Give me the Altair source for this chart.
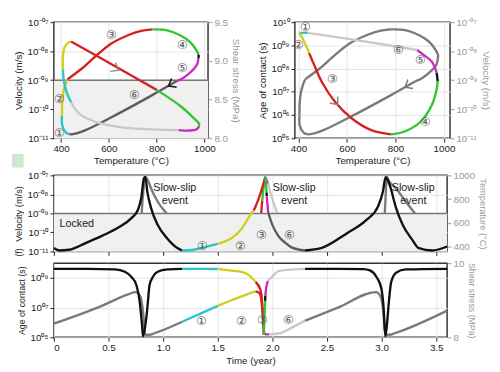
import altair as alt
import pandas as pd

# ---------------- colours of the phases ----------------
KEYS = ["k", "g", "d", "p1", "p2", "p3", "p4", "p5", "p6"]
COLS = ["#111111", "#7a7a7a", "#5c5c5c", "#2bc4c8", "#cfcf1f", "#d42222", "#2fc62f", "#c828c8", "#c9c9c9"]

# ---------------- top-left: velocity (log10) vs temperature ----------------
TLV_C = ["p1", "p2", "p3", "p4", "k", "p5", "d"]
TLV_T = [[435, 420, 405, 404], [404, 405, 411, 419, 427], [427, 490, 544, 612, 680, 735, 782],
         [782, 844, 898, 939, 966, 976], [976, 975], [975, 969, 946, 911, 884],
         [884, 776, 640, 503, 449, 435]]
TLV_E = [[-10.86, -10.80, -10.55, -10.21], [-10.21, -9.76, -9.37, -9.14, -8.97],
         [-8.97, -8.58, -8.18, -7.73, -7.45, -7.30, -7.25],
         [-7.25, -7.28, -7.45, -7.68, -7.96, -8.13], [-8.13, -8.24],
         [-8.24, -8.46, -8.69, -8.92, -9.03], [-9.03, -9.54, -10.15, -10.72, -10.86, -10.86]]
# top-left: shear stress vs temperature
TLS_C = ["p1", "p2", "p3", "p4", "p5", "p6"]
TLS_T = [[442, 424, 412, 408], [408, 408, 415, 429, 442], [442, 626, 800],
         [800, 898, 952, 977, 977], [977, 966, 939, 891], [891, 776, 640, 544, 476, 442]]
TLS_S = [[8.465, 8.59, 8.74, 8.89], [8.89, 9.06, 9.18, 9.23, 9.25], [9.25, 8.93, 8.625],
         [8.625, 8.42, 8.27, 8.19, 8.15], [8.15, 8.114, 8.10, 8.106],
         [8.106, 8.114, 8.148, 8.211, 8.317, 8.465]]
TL_LAB = ["①", "②", "③", "④", "⑤", "⑥"]
TL_LAB_T = [392, 392, 612, 909, 909, 707]
TL_LAB_E = [-10.83, -9.65, -7.43, -7.79, -8.59, -9.51]
TL_ARROW_S = [[640, 8.88]]      # arrow on the stress curve
TL_ARROW_V = [[850, -9.2]]      # arrow on the velocity curve

# ---------------- top-right: age of contact (log10) vs temperature ----------------
TRA_C = ["p1", "p2", "p3", "p4", "k", "p5", "p6"]
TRA_T = [[438, 404], [404, 424, 444], [444, 464, 498, 552, 620, 700, 781],
         [781, 835, 902, 949, 970, 974], [974, 970], [970, 949, 916, 889], [889, 727, 593, 438]]
TRA_E = [[9.54, 9.54], [9.54, 9.15, 8.66], [8.66, 8.17, 7.39, 6.55, 5.85, 5.35, 5.17],
         [5.17, 5.28, 5.70, 6.41, 7.11, 7.46], [7.46, 7.82], [7.82, 8.31, 8.59, 8.80],
         [8.80, 9.08, 9.30, 9.54]]
TR_LAB = ["①", "②", "③", "④", "⑤", "⑥"]
TR_LAB_T = [427, 400, 541, 923, 902, 811]
TR_LAB_E = [9.79, 9.01, 7.54, 5.70, 8.38, 8.80]
TR_ARROW_A = [[562, 6.45]]
TR_ARROW_V = [[839, -9.24]]

# ---------------- bottom 1: velocity (log10) and temperature vs time ----------------
B1V_C = ["k", "p1", "p2", "p3", "p4", "k", "p5", "d", "k"]
B1V_X = [[0, 0.05, 0.14, 0.29, 0.44, 0.59, 0.71, 0.77, 0.80, 0.825, 0.837, 0.855, 0.89, 0.95, 1.04, 1.13, 1.175],
         [1.175, 1.28, 1.4, 1.5], [1.5, 1.64, 1.72, 1.79, 1.83], [1.83, 1.87, 1.905, 1.925, 1.937],
         [1.937, 1.942, 1.947], [1.947, 1.949], [1.949, 1.955, 1.962],
         [1.962, 2.0, 2.056, 2.12, 2.18, 2.3],
         [2.3, 2.445, 2.684, 2.864, 2.968, 3.013, 3.037, 3.073, 3.133, 3.193, 3.28, 3.342, 3.462, 3.6]]
B1V_E = [[-10.82, -10.95, -10.91, -10.56, -10.18, -9.74, -9.25, -8.81, -8.19, -7.14, -7.08, -7.84, -8.72, -9.6, -10.33, -10.82, -10.95],
         [-10.95, -10.91, -10.74, -10.6], [-10.6, -10.25, -9.8, -9.15, -8.85], [-8.85, -8.3, -7.7, -7.3, -7.07],
         [-7.07, -7.5, -7.9], [-7.9, -8.1], [-8.1, -8.5, -8.95],
         [-8.95, -9.6, -10.19, -10.55, -10.8, -10.95],
         [-10.95, -10.83, -10.04, -9.33, -8.63, -7.84, -7.1, -7.49, -8.72, -9.6, -10.38, -10.83, -10.95, -10.74]]
B1T_C = ["g", "p1", "p2", "p3", "p4", "p5", "p6", "g"]
B1T_X = [[0, 0.09, 0.21, 0.44, 0.68, 0.74, 0.77, 0.795, 0.816, 0.831, 0.84, 0.86, 0.89, 0.95, 1.04, 1.13, 1.22, 1.3],
         [1.3, 1.4, 1.5], [1.5, 1.7, 1.86], [1.86, 1.89, 1.908], [1.908, 1.92, 1.935],
         [1.935, 1.947, 1.96], [1.96, 2.0, 2.056, 2.13, 2.206, 2.3],
         [2.3, 2.4, 2.5, 2.7, 2.998, 3.019, 3.035, 3.048, 3.07, 3.133, 3.22, 3.34, 3.46, 3.58, 3.6]]
B1T_T = [[483, 436, 408, 403, 403, 417, 463, 587, 835, 972, 986, 959, 890, 780, 670, 573, 491, 445],
         [445, 415, 410], [410, 407, 416], [416, 600, 790], [790, 900, 985],
         [985, 960, 930], [930, 800, 660, 560, 495, 455],
         [455, 425, 410, 405, 408, 505, 780, 986, 950, 890, 780, 642, 518, 422, 410]]
B1_LAB = ["①", "②", "③", "⑥"]
B1_LAB_X = [1.363, 1.713, 1.898, 2.155]
B1_LAB_E = [-10.7, -10.7, -10.14, -10.16]
SSE_X = [1.107, 2.2, 3.29]
SSE_E = [-7.68, -7.68, -7.68]
LOCK_X = [0.21]
LOCK_E = [-9.56]
LOCK_V = [1e-11, 1e-9]

# ---------------- bottom 2: age of contact (log10) and shear stress vs time ----------------
B2A_C = ["k", "p1", "p2", "p3", "p4", "k", "p5", "p6", "k"]
B2A_X = [[0, 0.3, 0.56, 0.65, 0.71, 0.756, 0.786, 0.807, 0.816, 0.846, 0.861, 0.876, 0.906, 0.95, 1.04, 1.175],
         [1.175, 1.35, 1.5], [1.5, 1.608, 1.727, 1.787, 1.847], [1.847, 1.892, 1.907, 1.916, 1.922],
         [1.922, 1.928, 1.934], [1.934, 1.936], [1.936, 1.945, 1.96], [1.96, 1.997, 2.056, 2.206, 2.3],
         [2.3, 2.6, 2.834, 2.893, 2.953, 2.998, 3.019, 3.034, 3.049, 3.067, 3.088, 3.133, 3.22, 3.6]]
B2A_E = [[9.62, 9.62, 9.58, 9.42, 9.07, 8.51, 7.4, 5.84, 5.07, 6.29, 7.4, 8.53, 9.07, 9.42, 9.58, 9.62],
         [9.62, 9.62, 9.61], [9.61, 9.51, 9.4, 9.18, 8.73], [8.73, 8.18, 7.29, 6.18, 5.17],
         [5.17, 6.3, 7.46], [7.46, 7.82], [7.82, 8.4, 8.8], [8.8, 9.07, 9.47, 9.58, 9.62],
         [9.62, 9.62, 9.6, 9.51, 9.07, 8.29, 6.96, 5.07, 5.84, 7.4, 8.73, 9.35, 9.58, 9.62]]
B2S_C = ["g", "p1", "p2", "p3", "p4", "p5", "p6", "g"]
B2S_X = [[0, 0.44, 0.68, 0.75, 0.79, 0.82, 0.835, 0.876, 0.92, 1.175], [1.175, 1.5],
         [1.5, 1.61, 1.75, 1.847], [1.847, 1.88, 1.9, 1.912], [1.912, 1.918, 1.925],
         [1.925, 1.94, 1.97], [1.97, 2.08, 2.15, 2.3],
         [2.3, 2.6, 2.95, 2.99, 3.02, 3.035, 3.076, 3.12, 3.6]]
B2S_S = [[8.37, 8.85, 9.16, 9.22, 9.11, 8.59, 8.07, 8.07, 8.11, 8.42], [8.42, 8.85],
         [8.85, 8.98, 9.14, 9.24], [9.24, 9.2, 9.0, 8.63], [8.63, 8.35, 8.11],
         [8.11, 8.08, 8.08], [8.08, 8.12, 8.22, 8.45],
         [8.45, 8.8, 9.22, 9.11, 8.59, 8.07, 8.07, 8.11, 8.72]]
B2_LAB = ["①", "②", "③", "⑥"]
B2_LAB_X = [1.354, 1.72, 1.907, 2.15]
B2_LAB_E = [6.07, 6.07, 6.13, 6.13]
PANEL_TAG = ["(f)"]

FONT = "Liberation Sans"
DARK = "#222222"
GREY = "#9a9a9a"
GRID = "#e4e4e4"
CHEVRON = "M -1 -0.8 L 0 0 L -1 0.8"

SUP = str.maketrans("-0123456789", "⁻⁰¹²³⁴⁵⁶⁷⁸⁹")


def pow_expr(exps):
    expr = "''"
    for e in reversed(exps):
        s = "10" + (f"{e:03d}" if e < 0 else f"{e:02d}").translate(SUP)
        expr = f"(round(log(datum.value)/LN10)=={e}) ? '{s}' : {expr}"
    return expr


def curve_df(name, cols, xs, ys, log=False):
    rows = []
    for i, (c, xx, yy) in enumerate(zip(cols, xs, ys)):
        for j, (x, y) in enumerate(zip(xx, yy)):
            rows.append(dict(sid=f"{name}{i}", o=j, x=x, y=(10 ** y if log else y), c=c))
    return pd.DataFrame(rows)


def text_df(labels, xs, ys, log=True):
    return pd.DataFrame({"x": xs, "y": [10 ** v if log else v for v in ys], "s": labels})


def pt_df(pts, log=False):
    return pd.DataFrame({"x": [p[0] for p in pts], "y": [10 ** p[1] if log else p[1] for p in pts]})


COLOR = alt.Color("c:N", scale=alt.Scale(domain=KEYS, range=COLS), legend=None)


def lines(df, X, Y, interp, sw=2.4):
    return alt.Chart(df).mark_line(strokeWidth=sw, interpolate=interp).encode(
        x=X, y=Y, color=COLOR, detail="sid:N", order="o:Q")


def texts(df, X, Y, size=10, color="#555555", **kw):
    return alt.Chart(df).mark_text(fontSize=size, color=color, font=FONT, **kw).encode(
        x=X, y=Y, text="s:N")


def arrow(df, X, Y, angle, color):
    return alt.Chart(df).mark_point(shape=CHEVRON, filled=False, size=170, strokeWidth=1.5,
                                    color=color, opacity=1, angle=angle).encode(x=X, y=Y)


def left_log_axis(title, exps, tsize):
    return alt.Axis(title=title, values=[10.0 ** e for e in exps], labelExpr=pow_expr(exps),
                    grid=True, gridColor=GRID, tickColor=DARK, labelColor=DARK, titleColor=DARK,
                    domain=False, tickSize=4, labelFontSize=10, titleFontSize=tsize, titlePadding=3,
                    titleFontWeight="normal")


def right_axis(title, values, tsize, fmt=None, expr=None):
    kw = dict(title=title, orient="right", values=values, grid=False, tickColor=GREY,
              labelColor=GREY, titleColor=GREY, domain=False, tickSize=4,
              labelFontSize=10, titleFontSize=tsize, titlePadding=3, titleFontWeight="normal")
    if fmt:
        kw["format"] = fmt
    if expr:
        kw["labelExpr"] = expr
    return alt.Axis(**kw)


def temp_axis():
    return alt.Axis(title="Temperature (°C)", values=[400, 600, 800, 1000], format="d", grid=True,
                    gridColor=GRID, domain=False, tickColor=DARK, labelColor=DARK,
                    titleColor=DARK, labelFontSize=10, titleFontSize=10, tickSize=4,
                    titlePadding=2, titleFontWeight="normal")


# ---------------- top-left panel ----------------
W1, H1 = 158, 119
xT1 = alt.X("x:Q", scale=alt.Scale(domain=[370, 1015], nice=False, zero=False), axis=temp_axis())
v_scale = alt.Scale(type="log", domain=[1e-11, 1e-7], nice=False)
yV1 = alt.Y("y:Q", scale=v_scale, axis=left_log_axis("Velocity (m/s)", [-11, -10, -9, -8, -7], 10))
band_df = pd.DataFrame({"y": [LOCK_V[0]], "y2": [LOCK_V[1]]})
band1 = alt.Chart(band_df).mark_rect(color="#f0f0f0").encode(
    x=alt.value(0), x2=alt.value(W1), y=yV1, y2="y2:Q")
rule1 = alt.Chart(pd.DataFrame({"y": [LOCK_V[1]]})).mark_rule(color="#777777", strokeWidth=1.5).encode(y=yV1)
swatch = alt.Chart(pd.DataFrame({"s": PANEL_TAG})).mark_rect(color="#cde8cf").encode(
    x=alt.value(-43), x2=alt.value(-31), y=alt.value(H1 + 16), y2=alt.value(H1 + 30))
tl_left = alt.layer(
    band1, rule1,
    lines(curve_df("tlv", TLV_C, TLV_T, TLV_E, log=True), xT1, yV1, "catmull-rom"),
    arrow(pt_df(TL_ARROW_V, log=True), xT1, yV1, 150, "#111111"),
    texts(text_df(TL_LAB, TL_LAB_T, TL_LAB_E), xT1, yV1, size=12),
    swatch,
)
yS1 = alt.Y("y:Q", scale=alt.Scale(domain=[8.0, 9.5], nice=False, zero=False),
            axis=right_axis("Shear stress (MPa)", [8.0, 8.5, 9.0, 9.5], 10, fmt=".1f"))
tl_right = alt.layer(
    lines(curve_df("tls", TLS_C, TLS_T, TLS_S), xT1, yS1, "catmull-rom"),
    arrow(pt_df(TL_ARROW_S), xT1, yS1, 30, "#888888"),
)
TL = alt.layer(tl_left, tl_right).resolve_scale(y="independent").properties(width=W1, height=H1)

# ---------------- top-right panel ----------------
W2, H2 = 159, 119
xT2 = alt.X("x:Q", scale=alt.Scale(domain=[385, 1025], nice=False, zero=False), axis=temp_axis())
yA2 = alt.Y("y:Q", scale=alt.Scale(type="log", domain=[1e5, 1e10], nice=False),
            axis=left_log_axis("Age of contact (s)", [5, 6, 7, 8, 9, 10], 10))
tr_left = alt.layer(
    lines(curve_df("tra", TRA_C, TRA_T, TRA_E, log=True), xT2, yA2, "catmull-rom"),
    arrow(pt_df(TR_ARROW_A, log=True), xT2, yA2, 50, "#888888"),
    texts(text_df(TR_LAB, TR_LAB_T, TR_LAB_E), xT2, yA2, size=12),
)
yV2 = alt.Y("y:Q", scale=alt.Scale(type="log", domain=[1e-11, 1e-7], nice=False),
            axis=right_axis("Velocity (m/s)", [10.0 ** e for e in [-11, -10, -9, -8, -7]], 10,
                            expr=pow_expr([-11, -10, -9, -8, -7])))
tr_right = alt.layer(
    lines(curve_df("trv", ["g"] * len(TLV_T), TLV_T, TLV_E, log=True), xT2, yV2, "catmull-rom"),
    arrow(pt_df(TR_ARROW_V, log=True), xT2, yV2, 150, "#777777"),
)
TR = alt.layer(tr_right, tr_left).resolve_scale(y="independent").properties(width=W2, height=H2)

# ---------------- bottom 1 ----------------
W3, H3 = 403, 78
xt_scale = alt.Scale(domain=[0, 3.6], nice=False, zero=False)
xt1 = alt.X("x:Q", scale=xt_scale,
            axis=alt.Axis(title=None, labels=False, values=[0, 0.5, 1, 1.5, 2, 2.5, 3, 3.5],
                          grid=True, gridColor=GRID, domain=False, tickColor=DARK, tickSize=4))
yV3 = alt.Y("y:Q", scale=alt.Scale(type="log", domain=[1e-11, 1e-7], nice=False),
            axis=left_log_axis("Velocity (m/s)", [-11, -10, -9, -8, -7], 9.5))
band3 = alt.Chart(band_df).mark_rect(color="#f0f0f0").encode(
    x=alt.value(0), x2=alt.value(W3), y=yV3, y2="y2:Q")
rule3 = alt.Chart(pd.DataFrame({"y": [LOCK_V[1]]})).mark_rule(color="#777777", strokeWidth=1.5).encode(y=yV3)
tag = alt.Chart(pd.DataFrame({"s": PANEL_TAG})).mark_text(
    fontSize=9, color=DARK, font=FONT, angle=270).encode(
    x=alt.value(-36), y=alt.value(H3 + 1), text="s:N")
b1_left = alt.layer(
    band3, rule3,
    lines(curve_df("b1v", B1V_C, B1V_X, B1V_E, log=True), xt1, yV3, "monotone"),
    texts(text_df(B1_LAB, B1_LAB_X, B1_LAB_E), xt1, yV3, size=12),
    texts(text_df(["Slow-slip\nevent"] * 3, SSE_X, SSE_E), xt1, yV3, size=11, color=DARK, lineBreak="\n"),
    texts(text_df(["Locked"], LOCK_X, LOCK_E), xt1, yV3, size=11, color=DARK),
    tag,
)
yT3 = alt.Y("y:Q", scale=alt.Scale(domain=[360, 1000], nice=False, zero=False),
            axis=right_axis("Temperature (°C)", [400, 600, 800, 1000], 9.5, fmt="d"))
b1_right = lines(curve_df("b1t", B1T_C, B1T_X, B1T_T), xt1, yT3, "monotone")
B1 = alt.layer(b1_right, b1_left).resolve_scale(y="independent").properties(width=W3, height=H3)

# ---------------- bottom 2 ----------------
W4, H4 = 403, 76
xt2 = alt.X("x:Q", scale=xt_scale,
            axis=alt.Axis(title="Time (year)", values=[0, 0.5, 1, 1.5, 2, 2.5, 3, 3.5],
                          labelExpr="datum.value == 0 ? '0' : format(datum.value, '.1f')",
                          grid=True, gridColor=GRID, domain=False, tickColor=DARK, labelColor=DARK,
                          titleColor=DARK, labelFontSize=10, titleFontSize=10, tickSize=4,
                          titlePadding=3, titleFontWeight="normal"))
yA4 = alt.Y("y:Q", scale=alt.Scale(type="log", domain=[1e5, 1e10], nice=False),
            axis=left_log_axis("Age of contact (s)", [5, 7, 9], 9))
b2_left = alt.layer(
    lines(curve_df("b2a", B2A_C, B2A_X, B2A_E, log=True), xt2, yA4, "monotone"),
    texts(text_df(B2_LAB, B2_LAB_X, B2_LAB_E), xt2, yA4, size=12),
)
yS4 = alt.Y("y:Q", scale=alt.Scale(domain=[8, 10], nice=False, zero=False),
            axis=right_axis("Shear stress (MPa)", [8, 9, 10], 9, fmt="d"))
b2_right = lines(curve_df("b2s", B2S_C, B2S_X, B2S_S), xt2, yS4, "monotone")
B2 = alt.layer(b2_right, b2_left).resolve_scale(y="independent").properties(width=W4, height=H4)

chart = alt.vconcat(
    alt.hconcat(TL, TR, spacing=89, bounds="flush"),
    alt.vconcat(B1, B2, spacing=0),
    spacing=1,
).properties(
    padding={"left": 3, "top": 4, "right": 0, "bottom": 0}
).configure(font=FONT).configure_view(stroke="#333333", strokeWidth=1.5)

chart.save("out.html", embed_options={"renderer": "svg", "actions": False})
